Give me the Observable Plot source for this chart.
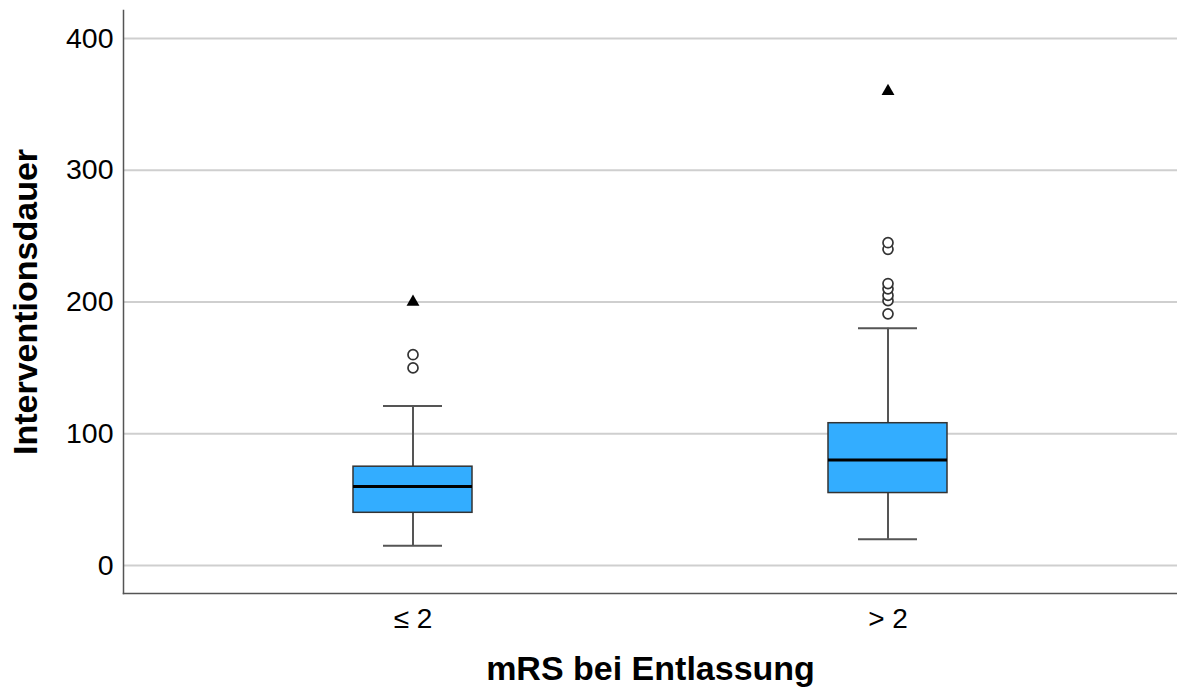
<!DOCTYPE html>
<html>
<head>
<meta charset="utf-8">
<script src="https://cdn.jsdelivr.net/npm/d3@7"></script>
<script src="https://cdn.jsdelivr.net/npm/@observablehq/plot@0.6"></script>
<style>
  html, body { margin: 0; padding: 0; background: #fff; }
  #chart svg { display: block; }
</style>
</head>
<body>
<div id="chart"></div>
<script>
// ---- data ----
const categories = ["≤ 2", "> 2"];
const whiskerLow = [15, 20];
const q1 = [40, 55];
const median = [60, 80];
const q3 = [75, 108];
const whiskerHigh = [121, 180];

const outlierGroup = ["≤ 2", "≤ 2", "> 2", "> 2", "> 2", "> 2", "> 2", "> 2", "> 2"];
const outlierValue = [160, 150, 191, 201, 205, 210, 214, 240, 245];

const extremeGroup = ["≤ 2", "> 2"];
const extremeValue = [200, 360];

const yTicks = [0, 100, 200, 300, 400];
const xTitle = "mRS bei Entlassung";
const yTitle = "Interventionsdauer";

// ---- tables built from the arrays ----
const boxes = categories.map((c, i) => ({
  cat: c, lo: whiskerLow[i], q1: q1[i], med: median[i], q3: q3[i], hi: whiskerHigh[i]
}));
const outliers = outlierGroup.map((c, i) => ({cat: c, v: outlierValue[i]}));
const extremes = extremeGroup.map((c, i) => ({cat: c, v: extremeValue[i]}));

const font = "'Liberation Sans', Arial, sans-serif";

const chart = Plot.plot({
  width: 1177,
  height: 691,
  marginLeft: 123,
  marginRight: 0,
  marginTop: 10,
  marginBottom: 98,
  style: {fontFamily: font, background: "#fff", color: "#000", overflow: "visible"},
  x: {type: "band", domain: categories, paddingInner: 0.75, paddingOuter: 0.483, align: 0.5},
  y: {domain: [-21.25, 421.25]},
  marks: [
    Plot.gridY(yTicks, {stroke: "#cfcfcf", strokeOpacity: 1, strokeWidth: 2}),
    Plot.frame({anchor: "left", stroke: "#555", strokeWidth: 1.5}),
    Plot.frame({anchor: "bottom", stroke: "#555", strokeWidth: 1.5}),
    Plot.axisY(yTicks, {tickSize: 0, tickPadding: 10, fontSize: 28.5, label: null, fill: "#000"}),
    Plot.axisX({tickSize: 0, tickPadding: 15, fontSize: 28, label: null, fill: "#000"}),
    // whiskers
    Plot.ruleX(boxes, {x: "cat", y1: "lo", y2: "q1", stroke: "#555", strokeWidth: 2}),
    Plot.ruleX(boxes, {x: "cat", y1: "q3", y2: "hi", stroke: "#555", strokeWidth: 2}),
    Plot.tickY(boxes, {x: "cat", y: "lo", insetLeft: 30, insetRight: 30, stroke: "#555", strokeWidth: 2}),
    Plot.tickY(boxes, {x: "cat", y: "hi", insetLeft: 30, insetRight: 30, stroke: "#555", strokeWidth: 2}),
    // box
    Plot.barY(boxes, {x: "cat", y1: "q1", y2: "q3", fill: "#33adff", stroke: "#333", strokeWidth: 1.5}),
    Plot.tickY(boxes, {x: "cat", y: "med", stroke: "#000", strokeWidth: 3}),
    // outliers & extremes
    Plot.dot(outliers, {x: "cat", y: "v", r: 5, stroke: "#333", strokeWidth: 1.7, fill: "#fff"}),
    Plot.dot(extremes, {x: "cat", y: "v", r: 4.8, symbol: "triangle", fill: "#000", stroke: "none"}),
    // axis titles
    Plot.text([xTitle], {frameAnchor: "bottom", dy: 86, fontSize: 34, fontWeight: "bold", fill: "#000"}),
    Plot.text([yTitle], {frameAnchor: "left", textAnchor: "middle", dx: -97, rotate: -90, fontSize: 34, fontWeight: "bold", fill: "#000"})
  ]
});
document.getElementById("chart").append(chart);
</script>
</body>
</html>
